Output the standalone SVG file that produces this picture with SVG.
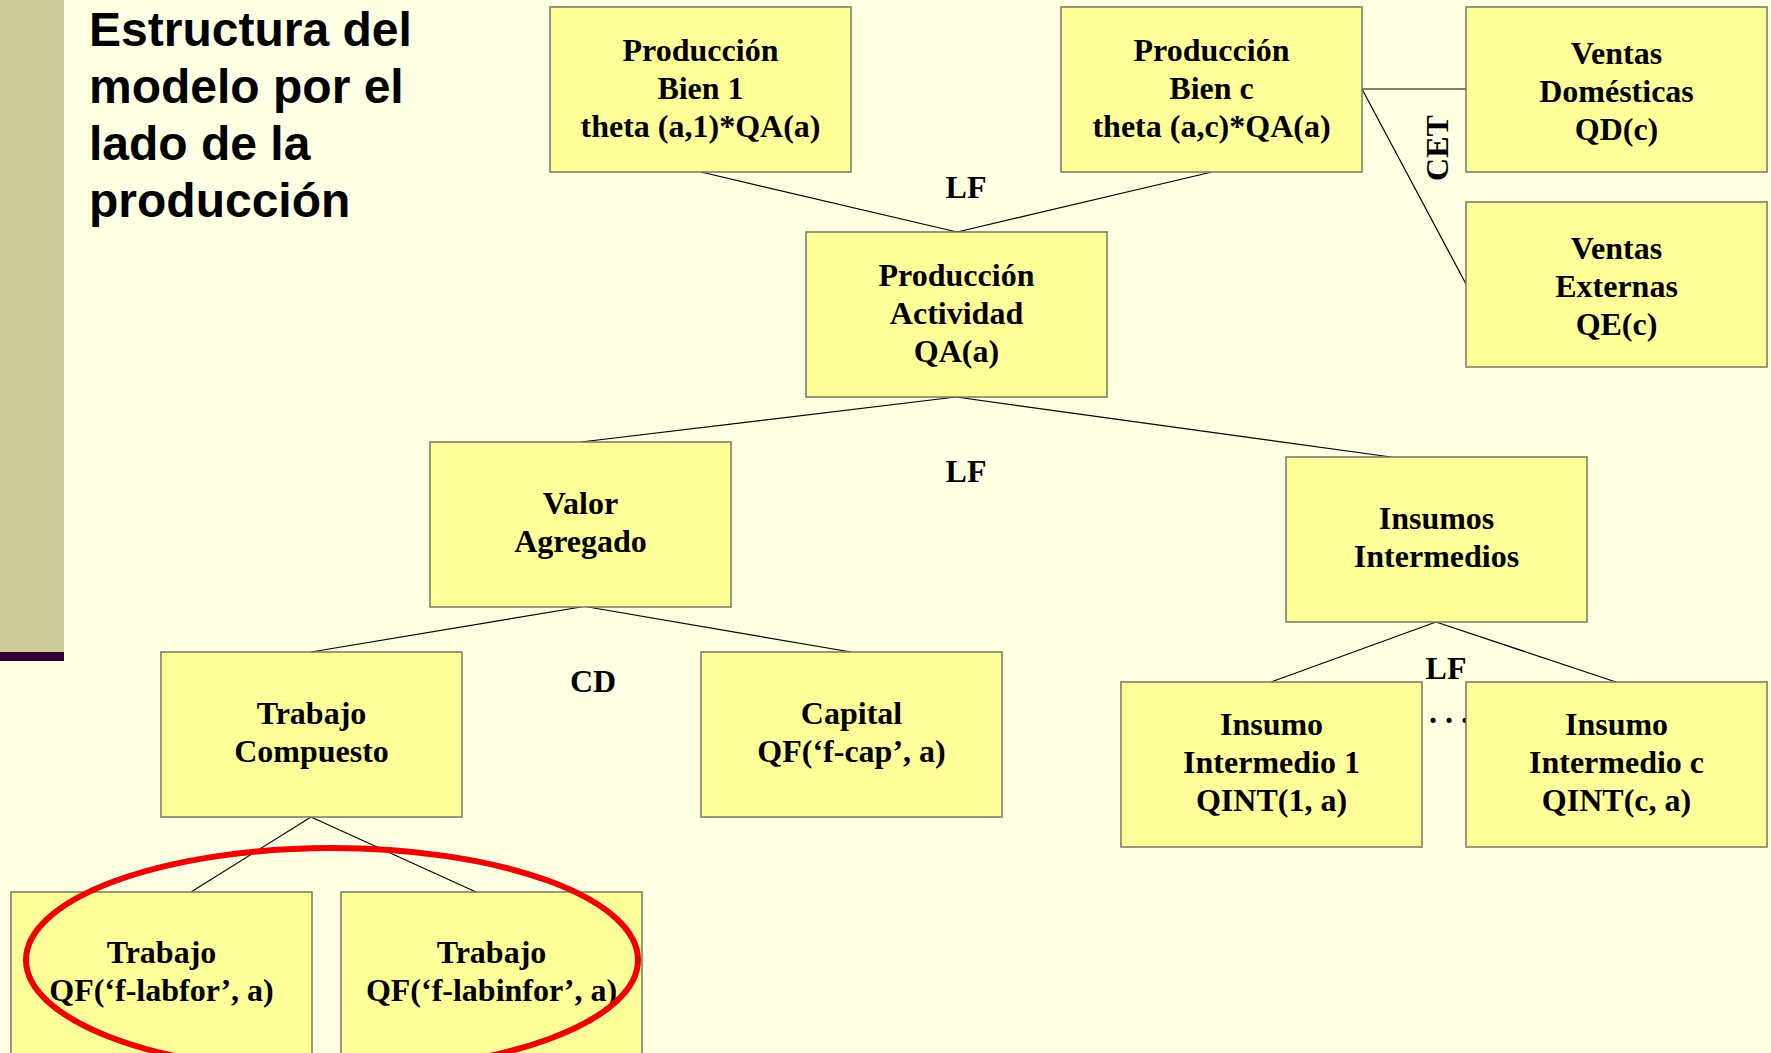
<svg xmlns="http://www.w3.org/2000/svg" width="1771" height="1053" viewBox="0 0 1771 1053">
<style>
.box{fill:#FFFF99;stroke:#77775A;stroke-width:1.5}
.t{font-family:"Liberation Serif","Times New Roman",serif;font-weight:bold;font-size:32px;fill:#000;text-anchor:middle}
.title{font-family:"Liberation Sans",Arial,sans-serif;font-weight:bold;font-size:48px;fill:#000}
.ln{stroke:#000;stroke-width:1.2;fill:none}
</style>
<rect x="0" y="0" width="1771" height="1053" fill="#FFFFE3"/>
<rect x="0" y="0" width="64" height="652" fill="#CCCC99"/>
<rect x="0" y="652" width="64" height="9" fill="#330033"/>
<g id="title">
<text class="title" x="89" y="46">Estructura del</text>
<text class="title" x="89" y="103">modelo por el</text>
<text class="title" x="89" y="160">lado de la</text>
<text class="title" x="89" y="217">producción</text>
</g>
<g id="connectors">
<line class="ln" x1="701" y1="172" x2="957" y2="232"/>
<line class="ln" x1="1212" y1="172" x2="957" y2="232"/>
<line class="ln" x1="1362" y1="89" x2="1466" y2="89"/>
<line class="ln" x1="1362" y1="89" x2="1466" y2="284"/>
<line class="ln" x1="956" y1="397" x2="581" y2="442"/>
<line class="ln" x1="956" y1="397" x2="1391" y2="457"/>
<line class="ln" x1="581" y1="607" x2="311" y2="652"/>
<line class="ln" x1="588" y1="607" x2="851" y2="652"/>
<line class="ln" x1="311" y1="817" x2="191" y2="892"/>
<line class="ln" x1="311" y1="817" x2="476" y2="892"/>
<line class="ln" x1="1436" y1="622" x2="1271" y2="682"/>
<line class="ln" x1="1436" y1="622" x2="1616" y2="682"/>
</g>
<g id="labels">
<text class="t" x="966" y="198">LF</text>
<text class="t" transform="translate(1448,148) rotate(-90)" x="0" y="0">CET</text>
<text class="t" x="966" y="482">LF</text>
<text class="t" x="593" y="692">CD</text>
<text class="t" x="1446" y="679">LF</text>
<text class="t" x="1449" y="723">. . .</text>
</g>
<g id="n_bien1">
<rect class="box" x="550" y="7" width="301" height="165"/>
<text class="t" x="700.5" y="61">Producción</text>
<text class="t" x="700.5" y="99">Bien 1</text>
<text class="t" x="700.5" y="137">theta (a,1)*QA(a)</text>
</g>
<g id="n_bienc">
<rect class="box" x="1061" y="7" width="301" height="165"/>
<text class="t" x="1211.5" y="61">Producción</text>
<text class="t" x="1211.5" y="99">Bien c</text>
<text class="t" x="1211.5" y="137">theta (a,c)*QA(a)</text>
</g>
<g id="n_ventasdom">
<rect class="box" x="1466" y="7" width="301" height="165"/>
<text class="t" x="1616.5" y="64">Ventas</text>
<text class="t" x="1616.5" y="102">Domésticas</text>
<text class="t" x="1616.5" y="140">QD(c)</text>
</g>
<g id="n_ventasext">
<rect class="box" x="1466" y="202" width="301" height="165"/>
<text class="t" x="1616.5" y="259">Ventas</text>
<text class="t" x="1616.5" y="297">Externas</text>
<text class="t" x="1616.5" y="335">QE(c)</text>
</g>
<g id="n_actividad">
<rect class="box" x="806" y="232" width="301" height="165"/>
<text class="t" x="956.5" y="286">Producción</text>
<text class="t" x="956.5" y="324">Actividad</text>
<text class="t" x="956.5" y="362">QA(a)</text>
</g>
<g id="n_valor">
<rect class="box" x="430" y="442" width="301" height="165"/>
<text class="t" x="580.5" y="514">Valor</text>
<text class="t" x="580.5" y="552">Agregado</text>
</g>
<g id="n_insumos">
<rect class="box" x="1286" y="457" width="301" height="165"/>
<text class="t" x="1436.5" y="529">Insumos</text>
<text class="t" x="1436.5" y="567">Intermedios</text>
</g>
<g id="n_trabcomp">
<rect class="box" x="161" y="652" width="301" height="165"/>
<text class="t" x="311.5" y="724">Trabajo</text>
<text class="t" x="311.5" y="762">Compuesto</text>
</g>
<g id="n_capital">
<rect class="box" x="701" y="652" width="301" height="165"/>
<text class="t" x="851.5" y="724">Capital</text>
<text class="t" x="851.5" y="762">QF(‘f-cap’, a)</text>
</g>
<g id="n_insumo1">
<rect class="box" x="1121" y="682" width="301" height="165"/>
<text class="t" x="1271.5" y="735">Insumo</text>
<text class="t" x="1271.5" y="773">Intermedio 1</text>
<text class="t" x="1271.5" y="811">QINT(1, a)</text>
</g>
<g id="n_insumoc">
<rect class="box" x="1466" y="682" width="301" height="165"/>
<text class="t" x="1616.5" y="735">Insumo</text>
<text class="t" x="1616.5" y="773">Intermedio c</text>
<text class="t" x="1616.5" y="811">QINT(c, a)</text>
</g>
<g id="n_labfor">
<rect class="box" x="11" y="892" width="301" height="170"/>
<text class="t" x="161.5" y="963">Trabajo</text>
<text class="t" x="161.5" y="1001">QF(‘f-labfor’, a)</text>
</g>
<g id="n_labinfor">
<rect class="box" x="341" y="892" width="301" height="170"/>
<text class="t" x="491.5" y="963">Trabajo</text>
<text class="t" x="491.5" y="1001">QF(‘f-labinfor’, a)</text>
</g>
<ellipse id="highlight" cx="332" cy="960" rx="306" ry="112" fill="none" stroke="#EE0000" stroke-width="6"/>
</svg>
